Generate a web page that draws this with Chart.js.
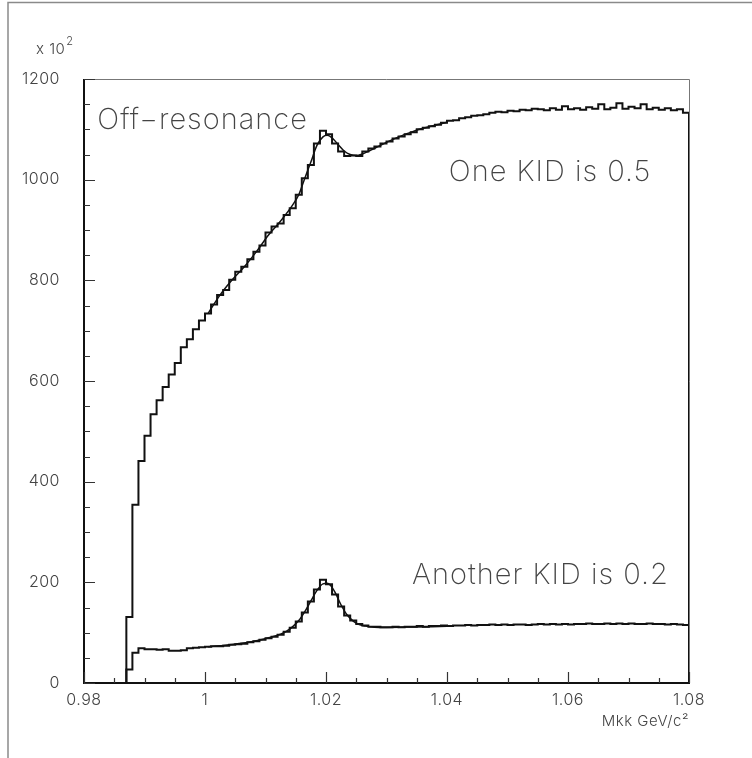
<!DOCTYPE html>
<html>
<head>
<meta charset="utf-8">
<script src="https://cdn.jsdelivr.net/npm/chart.js@4.4.1/dist/chart.umd.min.js"></script>
<style>
  html, body { margin: 0; padding: 0; background: #fff; }
  #wrap { position: relative; width: 752px; height: 758px; }
</style>
</head>
<body>
<div id="wrap"><canvas id="chart" width="752" height="758"></canvas></div>
<script>
// Mkk histograms, 100 bins of 1 MeV from 0.98 to 1.08 GeV, counts in units of 10^2
const massMin = 0.98;
const massMax = 1.08;
const binWidth = 0.001;

// One KID is 0.5 (upper histogram)
const oneKid = [
    0, 0, 0, 0, 0, 0, 0, 131, 354, 441,
    491, 534, 562, 588, 613, 636, 667, 683, 703, 720,
    734, 752, 771, 781, 801, 817, 827, 842, 857, 869,
    895, 907, 913, 930, 943, 970, 1003, 1029, 1072, 1097,
    1090, 1072, 1056, 1047, 1048, 1047, 1056, 1062, 1066, 1072,
    1076, 1082, 1086, 1090, 1094, 1100, 1103, 1106, 1109, 1113,
    1117, 1118, 1122, 1124, 1127, 1128, 1130, 1133, 1135, 1134,
    1137, 1136, 1139, 1138, 1141, 1140, 1138, 1142, 1139, 1146,
    1140, 1142, 1139, 1144, 1141, 1150, 1140, 1143, 1152, 1141,
    1145, 1142, 1150, 1140, 1143, 1139, 1142, 1138, 1140, 1133
];

// Another KID is 0.2 (lower histogram)
const anotherKid = [
    0, 0, 0, 0, 0, 0, 0, 27, 60, 69,
    67, 67, 66, 67, 64, 64, 65, 69, 70, 71,
    72, 73, 73, 74, 76, 77, 78, 81, 83, 86,
    89, 92, 96, 102, 110, 122, 140, 162, 186, 205,
    196, 176, 152, 134, 124, 117, 114, 112, 112, 111,
    111, 112, 111, 112, 112, 113, 112, 113, 113, 114,
    113, 114, 114, 115, 114, 115, 115, 116, 115, 116,
    115, 116, 116, 115, 116, 117, 116, 117, 116, 117,
    116, 117, 117, 118, 117, 117, 118, 117, 118, 117,
    118, 117, 117, 118, 117, 117, 116, 117, 116, 115
];

// fitted curves drawn over the histograms
const fitMassOne = [1.0005, 1.0025, 1.0045, 1.0065, 1.0085, 1.0105, 1.0125, 1.0145, 1.0155, 1.0165,
    1.0175, 1.0185, 1.0195, 1.0202, 1.021, 1.022, 1.023, 1.024, 1.025, 1.026,
    1.028, 1.030, 1.032, 1.034, 1.036, 1.038, 1.040];
const fitOne = [734, 771, 801, 827, 857, 890, 918, 950, 970, 1003,
    1035, 1068, 1085, 1088, 1083, 1070, 1057, 1050, 1048, 1051,
    1062, 1074, 1085, 1094, 1102, 1108, 1114];

const fitMassAnother = [1.0005, 1.0045, 1.0085, 1.0105, 1.0125, 1.0135, 1.0145, 1.0155, 1.0165, 1.0175,
    1.0185, 1.0195, 1.0202, 1.021, 1.0215, 1.0225, 1.0235, 1.0245, 1.0255, 1.0265,
    1.028, 1.030, 1.035, 1.040];
const fitAnother = [72, 76.5, 84, 90, 97, 103, 112, 124, 142, 163,
    184, 197, 198, 190, 180, 155, 135, 123, 116, 113,
    111, 110.5, 111.5, 112.5];

const xTicks = [0.98, 1.00, 1.02, 1.04, 1.06, 1.08];
const yTicks = [0, 200, 400, 600, 800, 1000, 1200];

const textFont = '"Inter", "Lato", "DejaVu Sans", sans-serif';

// histogram as stepped line (each bin flat from its low edge), closed down to zero on the right edge
function histPoints(values) {
    let pts = values.map((v, i) => ({ x: massMin + i * binWidth, y: v }));
    pts.push({ x: massMax, y: values[values.length - 1] });
    pts.push({ x: massMax, y: 0 });
    return pts;
}

function fitPoints(mass, values) {
    return mass.map((m, i) => ({ x: m, y: values[i] }));
}

//It draws the frame, the inward ticks and the free texts
const paw = {
    id: 'paw',
    beforeDraw(chart) {
        chart.ctx.letterSpacing = '0.5px';
    },
    afterDraw(chart) {
        let ctx = chart.ctx;
        let a = chart.chartArea;
        let xs = chart.scales.x, ys = chart.scales.y;
        ctx.save();

        // outer page border
        ctx.strokeStyle = '#8a8a8a';
        ctx.lineWidth = 1.5;
        ctx.beginPath();
        ctx.moveTo(8, 758); ctx.lineTo(8, 2.5); ctx.lineTo(752, 2.5);
        ctx.stroke();

        // frame top and right
        ctx.strokeStyle = '#777';
        ctx.lineWidth = 1;
        ctx.beginPath();
        ctx.moveTo(a.left, a.top + 0.5); ctx.lineTo(a.right + 0.5, a.top + 0.5); ctx.lineTo(a.right + 0.5, a.bottom);
        ctx.stroke();

        // axes
        ctx.strokeStyle = '#111';
        ctx.lineWidth = 2;
        ctx.beginPath();
        ctx.moveTo(a.left, a.top); ctx.lineTo(a.left, a.bottom); ctx.lineTo(a.right + 1, a.bottom);
        ctx.stroke();

        // ticks pointing inside
        ctx.lineWidth = 1.2;
        ctx.strokeStyle = '#333';
        ctx.beginPath();
        for (let v = 0; v <= 1200; v += 50) {
            let y = Math.round(ys.getPixelForValue(v)) + 0.5;
            let len = v % 200 === 0 ? 11 : 6;
            ctx.moveTo(a.left, y); ctx.lineTo(a.left + len, y);
        }
        for (let k = 0; k <= 20; k++) {
            let m = massMin + k * 0.005;
            let x = Math.round(xs.getPixelForValue(m)) + 0.5;
            let len = k % 4 === 0 ? 11 : 5;
            ctx.moveTo(x, a.bottom); ctx.lineTo(x, a.bottom - len);
        }
        ctx.stroke();

        // texts
        ctx.fillStyle = '#444';
        ctx.textBaseline = 'middle';
        ctx.textAlign = 'left';
        ctx.letterSpacing = '1px';
        ctx.font = '200 29px ' + textFont;
        ctx.fillText('Off\u2212resonance', xs.getPixelForValue(0.9822), ys.getPixelForValue(1117));
        ctx.fillText('One KID is 0.5', xs.getPixelForValue(1.0403), ys.getPixelForValue(1015));
        ctx.fillText('Another KID is 0.2', xs.getPixelForValue(1.0342), ys.getPixelForValue(215));

        ctx.letterSpacing = '0.5px';
        ctx.font = '300 15px ' + textFont;
        ctx.fillText('x 10', 36, 49);
        let w = ctx.measureText('x 10').width;
        ctx.font = '300 11px ' + textFont;
        ctx.fillText('2', 36 + w + 1, 42);

        ctx.textAlign = 'right';
        ctx.font = '300 15px ' + textFont;
        ctx.fillText('Mkk GeV/c\u00b2', a.right, 721);
        ctx.restore();
    }
};

let ctx = document.getElementById('chart').getContext('2d');

window.bar = new Chart(ctx, {
    type: 'line',
    data: {
        datasets: [{
            label: 'One KID is 0.5',
            data: histPoints(oneKid),
            stepped: 'before',
            borderColor: '#111',
            borderWidth: 2,
            pointRadius: 0,
            fill: false
        }, {
            label: 'Another KID is 0.2',
            data: histPoints(anotherKid),
            stepped: 'before',
            borderColor: '#111',
            borderWidth: 2,
            pointRadius: 0,
            fill: false
        }, {
            label: 'fit 0.5',
            data: fitPoints(fitMassOne, fitOne),
            cubicInterpolationMode: 'monotone',
            borderColor: '#111',
            borderWidth: 1.5,
            pointRadius: 0,
            fill: false
        }, {
            label: 'fit 0.2',
            data: fitPoints(fitMassAnother, fitAnother),
            cubicInterpolationMode: 'monotone',
            borderColor: '#111',
            borderWidth: 1.5,
            pointRadius: 0,
            fill: false
        }]
    },
    options: {
        responsive: false,
        animation: false,
        devicePixelRatio: 1,
        layout: { padding: { left: 0, top: 79, right: 63, bottom: 0 } },
        plugins: {
            legend: { display: false },
            tooltip: { enabled: false }
        },
        scales: {
            x: {
                type: 'linear',
                min: massMin,
                max: massMax,
                afterFit: s => { s.height = 75; },
                afterBuildTicks: s => { s.ticks = xTicks.map(v => ({ value: v })); },
                grid: { display: false },
                border: { display: false },
                ticks: {
                    padding: 0,
                    maxRotation: 0,
                    color: '#444',
                    font: { family: textFont, size: 16, weight: '300' },
                    callback: v => String(+v.toFixed(2))
                }
            },
            y: {
                type: 'linear',
                min: 0,
                max: 1200,
                afterFit: s => { s.width = 84; },
                afterBuildTicks: s => { s.ticks = yTicks.map(v => ({ value: v })); },
                grid: { display: false },
                border: { display: false },
                ticks: {
                    padding: 16,
                    color: '#444',
                    font: { family: textFont, size: 16, weight: '300' },
                    callback: v => String(v)
                }
            }
        }
    },
    plugins: [paw]
});
</script>
</body>
</html>
